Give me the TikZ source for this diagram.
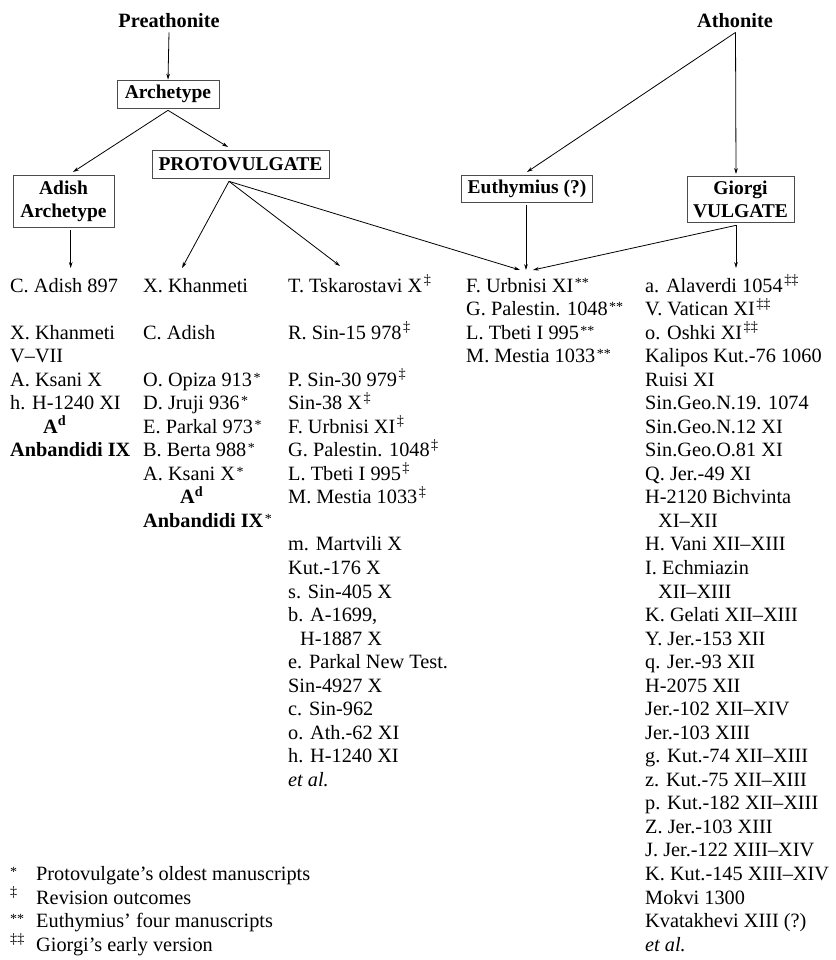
\documentclass[tikz,border=0pt]{standalone}
\usepackage{fontspec}
\setmainfont{Liberation Serif}
\usetikzlibrary{arrows.meta}
\newcommand\mkA{\kern1.5pt\raisebox{0.2em}{\fontsize{14}{14}\selectfont *}}
\newcommand\mkB{\kern1.5pt\textsuperscript{‡}}
\newcommand\mkC{\kern1.5pt\raisebox{0.2em}{\fontsize{14}{14}\selectfont **}}
\newcommand\mkD{\kern1.5pt\textsuperscript{‡‡}}
\begin{document}
\begin{tikzpicture}[x=1pt,y=-1pt,
  font=\fontsize{20.3}{23.5}\selectfont,
  arr/.style={-{Stealth[length=6pt,width=3.6pt]}, line width=0.8pt},
  box/.style={draw=black!70, line width=0.7pt, font=\fontsize{19.5}{23}\selectfont\bfseries, align=center, inner sep=0pt},
  tx/.style={anchor=base west, inner sep=0pt},
  hd/.style={font=\fontsize{20.3}{23}\selectfont\bfseries, anchor=base, inner sep=4pt}]
\useasboundingbox (0,0) rectangle (835,960);

% headings and boxes
\node[hd] (pre) at (169,28) {Preathonite};
\node[hd] (ath) at (735,28) {Athonite};
\node[box, minimum width=102pt, minimum height=28pt] (arch) at (168,94) {Archetype};
\node[box, minimum width=177pt, minimum height=28pt] (pv) at (240.5,164) {PROTOVULGATE};
\node[box, minimum width=101pt, minimum height=52pt] (adish) at (63.5,201) {Adish\\Archetype};
\node[box, minimum width=131pt, minimum height=27pt] (eu) at (527,188.5) {Euthymius (?)};
\node[box, minimum width=107pt, minimum height=46pt] (gi) at (740.5,199) {Giorgi\\VULGATE};

% column 1
\foreach \k/\t in {0/{C. Adish 897}, 2/{X. Khanmeti}, 3/{V--VII}, 4/{A. Ksani X},
  5/{h. H-1240 XI}, 6/{\hspace*{33pt}\textbf{A\textsuperscript{d}}}, 7/{\textbf{Anbandidi IX}}}
  \node[tx] (ca\k) at (10,{292+23.54*\k}) {\t};

% column 2
\foreach \k/\t in {0/{X. Khanmeti}, 2/{C. Adish}, 4/{O. Opiza 913\mkA}, 5/{D. Jruji 936\mkA},
  6/{E. Parkal 973\mkA}, 7/{B. Berta 988\mkA}, 8/{A. Ksani X\mkA},
  9/{\hspace*{37pt}\textbf{A\textsuperscript{d}}}, 10/{\textbf{Anbandidi IX}\mkA}}
  \node[tx] (cb\k) at (143,{292+23.54*\k}) {\t};

% column 3
\foreach \k/\t in {0/{T. Tskarostavi X\mkB}, 2/{R. Sin-15 978\mkB}, 4/{P. Sin-30 979\mkB},
  5/{Sin-38 X\mkB}, 6/{F. Urbnisi XI\mkB}, 7/{G. Palestin. 1048\mkB}, 8/{L. Tbeti I 995\mkB},
  9/{M. Mestia 1033\mkB}, 11/{m. Martvili X}, 12/{Kut.-176 X}, 13/{s. Sin-405 X},
  14/{b. A-1699,}, 15/{\hspace*{12pt}H-1887 X}, 16/{e. Parkal New Test.}, 17/{Sin-4927 X},
  18/{c. Sin-962}, 19/{o. Ath.-62 XI}, 20/{h. H-1240 XI}, 21/{\textit{et al.}}}
  \node[tx] (cc\k) at (288,{292+23.54*\k}) {\t};

% column 4
\foreach \k/\t in {0/{F. Urbnisi XI\mkC}, 1/{G. Palestin. 1048\mkC}, 2/{L. Tbeti I 995\mkC},
  3/{M. Mestia 1033\mkC}}
  \node[tx] (cd\k) at (466,{292+23.54*\k}) {\t};

% column 5
\foreach \k/\t in {0/{a. Alaverdi 1054\mkD}, 1/{V. Vatican XI\mkD}, 2/{o. Oshki XI\mkD},
  3/{Kalipos Kut.-76 1060}, 4/{Ruisi XI}, 5/{Sin.Geo.N.19. 1074}, 6/{Sin.Geo.N.12 XI},
  7/{Sin.Geo.O.81 XI}, 8/{Q. Jer.-49 XI}, 9/{H-2120 Bichvinta}, 10/{\hspace*{13pt}XI--XII},
  11/{H. Vani XII--XIII}, 12/{I. Echmiazin}, 13/{\hspace*{13pt}XII--XIII}, 14/{K. Gelati XII--XIII},
  15/{Y. Jer.-153 XII}, 16/{q. Jer.-93 XII}, 17/{H-2075 XII}, 18/{Jer.-102 XII--XIV},
  19/{Jer.-103 XIII}, 20/{g. Kut.-74 XII--XIII}, 21/{z. Kut.-75 XII--XIII},
  22/{p. Kut.-182 XII--XIII}, 23/{Z. Jer.-103 XIII}, 24/{J. Jer.-122 XIII--XIV},
  25/{K. Kut.-145 XIII--XIV}, 26/{Mokvi 1300}, 27/{Kvatakhevi XIII (?)}, 28/{\textit{et al.}}}
  \node[tx] (ce\k) at (645,{292+23.54*\k}) {\t};

% legend
\foreach \k/\s/\t in {25/{\mkA}/{Protovulgate's oldest manuscripts}, 26/{\mkB}/{Revision outcomes},
  27/{\mkC}/{Euthymius' four manuscripts}, 28/{\mkD}/{Giorgi's early version}}
  {\node[tx] (ls\k) at (8.5,{292+23.54*\k}) {\s};
   \node[tx] (lt\k) at (36,{292+23.54*\k}) {\t};}

% arrow end points
\coordinate (eAd) at (73,172);
\coordinate (ePv) at (228,147);
\coordinate (eXk) at (182,268);
\coordinate (eTs) at (340,266);
\coordinate (eF1) at (520,270);
\coordinate (eF2) at (526,270);
\coordinate (eF3) at (533,270);
\coordinate (eEu) at (527,172);
\coordinate (eGi) at (736,174);
\coordinate (eAl) at (736,268);
\coordinate (eCa) at (70.7,268);

% connectors
\draw[arr] (pre.south) -- (arch.north);
\draw[arr] ([yshift=-2pt]arch.south) -- (eAd);
\draw[arr] ([yshift=-2pt]arch.south) -- (ePv);
\draw[arr] ([xshift=7.2pt,yshift=-3pt]adish.south) -- (eCa);
\draw[arr] ([xshift=-11.5pt,yshift=-3pt]pv.south) -- (eXk);
\draw[arr] ([xshift=-11.5pt,yshift=-3pt]pv.south) -- (eTs);
\draw[arr] ([xshift=-11.5pt,yshift=-3pt]pv.south) -- (eF1);
\draw[arr] ([xshift=0.5pt]ath.south) -- (eEu);
\draw[arr] ([xshift=0.5pt]ath.south) -- (eGi);
\draw[arr] ([xshift=-1pt,yshift=-3pt]eu.south) -- (eF2);
\draw[arr] ([xshift=-4.5pt,yshift=-3pt]gi.south) -- (eF3);
\draw[arr] ([xshift=-4.5pt,yshift=-3pt]gi.south) -- (eAl);
\end{tikzpicture}
\end{document}
